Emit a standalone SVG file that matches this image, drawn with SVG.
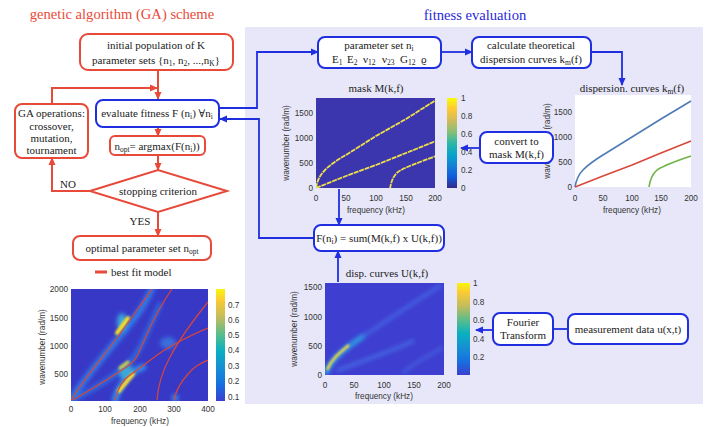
<svg xmlns="http://www.w3.org/2000/svg" width="720" height="427" viewBox="0 0 720 427">
<style>
.t{font-family:"Liberation Serif","DejaVu Serif",serif;font-size:11px;fill:#222;text-anchor:middle}
.ax{font-family:"Liberation Sans",Arial,sans-serif;font-size:8.2px;fill:#333}
.axm{font-family:"Liberation Sans",Arial,sans-serif;font-size:8.2px;fill:#333;text-anchor:middle}
.axr{font-family:"Liberation Sans",Arial,sans-serif;font-size:8.2px;fill:#333;text-anchor:end}
.rb{fill:#fff;stroke:#e84a3a;stroke-width:2}
.bb{fill:#fff;stroke:#1f2fe0;stroke-width:2}
.rc{fill:none;stroke:#e84a3a;stroke-width:2}
.bc{fill:none;stroke:#1f2fe0;stroke-width:1.8}
.mk{fill:none;stroke:#eee04a;stroke-width:1.8;stroke-dasharray:5 0.8}
.rf{fill:none;stroke:#d8463a;stroke-width:1.2}
.s{font-size:7.5px}
</style>
<defs>
<marker id="ar" markerWidth="8" markerHeight="8" refX="7" refY="4" orient="auto" markerUnits="userSpaceOnUse"><path d="M0,0.5 L8,4 L0,7.5 z" fill="#e84a3a"/></marker>
<marker id="ab" markerWidth="8" markerHeight="8" refX="7" refY="4" orient="auto" markerUnits="userSpaceOnUse"><path d="M0,0.5 L8,4 L0,7.5 z" fill="#1f2fe0"/></marker>
<linearGradient id="par" x1="0" y1="1" x2="0" y2="0">
<stop offset="0" stop-color="#352a87"/><stop offset="0.125" stop-color="#0f5cdd"/><stop offset="0.25" stop-color="#1481d6"/><stop offset="0.375" stop-color="#06a4ca"/><stop offset="0.5" stop-color="#2eb7a4"/><stop offset="0.625" stop-color="#87bf77"/><stop offset="0.75" stop-color="#d1bb59"/><stop offset="0.875" stop-color="#fec832"/><stop offset="1" stop-color="#f9fb0e"/>
</linearGradient>
<linearGradient id="par2" x1="0" y1="1" x2="0" y2="0">
<stop offset="0" stop-color="#3b3fd0"/><stop offset="0.15" stop-color="#1670e0"/><stop offset="0.3" stop-color="#1690d4"/><stop offset="0.45" stop-color="#0ab0c0"/><stop offset="0.6" stop-color="#5cbd8a"/><stop offset="0.75" stop-color="#c3bc5c"/><stop offset="0.9" stop-color="#fbcb33"/><stop offset="1" stop-color="#f9f50e"/>
</linearGradient>
<filter id="b2" x="-20%" y="-20%" width="140%" height="140%"><feGaussianBlur stdDeviation="2.2"/></filter>
<filter id="b1" x="-20%" y="-20%" width="140%" height="140%"><feGaussianBlur stdDeviation="0.9"/></filter>
<clipPath id="cL"><rect x="71" y="289" width="137" height="112"/></clipPath>
<clipPath id="cU"><rect x="325" y="283" width="119" height="92"/></clipPath>
<clipPath id="cM"><rect x="316" y="98" width="119" height="90"/></clipPath>
</defs>

<rect width="720" height="427" fill="#fff"/>
<rect x="245" y="27" width="458" height="377" fill="#e7e7f9"/>

<text x="122" y="19" style="font-family:'Liberation Serif',serif;font-size:14.6px;fill:#e84a3a;text-anchor:middle">genetic algorithm (GA) scheme</text>
<text x="475" y="20" style="font-family:'Liberation Serif',serif;font-size:14.6px;fill:#2a2ad8;text-anchor:middle">fitness evaluation</text>

<g id="plotR">
<text class="t" x="632" y="92">dispersion. curves k<tspan class="s" dy="2">m</tspan><tspan dy="-2">(f)</tspan></text>
<rect x="575" y="95" width="116" height="92" fill="#fff"/>
<path d="M575,187 C576,181 578,175 583,170 S598,158 603,155 L632,137 L661,119 L691,101" fill="none" stroke="#4f7bb5" stroke-width="1.6"/>
<path d="M575,187 L603,176 L632,165 L661,153 L691,141" fill="none" stroke="#d9493a" stroke-width="1.6"/>
<path d="M649,187 C650,180 652,175 656,171 S676,161 691,156" fill="none" stroke="#6cb544" stroke-width="1.6"/>
<text class="axr" x="572" y="115">1500</text>
<text class="axr" x="572" y="140">1000</text>
<text class="axr" x="572" y="165">500</text>
<text class="axr" x="572" y="190">0</text>
<text class="axm" x="575" y="201">0</text>
<text class="axm" x="603" y="201">50</text>
<text class="axm" x="632" y="201">100</text>
<text class="axm" x="661" y="201">150</text>
<text class="axm" x="691" y="201">200</text>
<text class="axm" x="632" y="213">frequency (kHz)</text>
<text class="axm" x="550" y="141" transform="rotate(-90 550 141)">wavenumber (rad/m)</text>
</g>

<g id="connectors">
<path class="rc" d="M158,70 V99" marker-end="url(#ar)"/>
<path class="rc" d="M52,104 V88 H157" marker-end="url(#ar)"/>
<path class="rc" d="M158,127 V136" marker-end="url(#ar)"/>
<path class="rc" d="M158,155 V170" marker-end="url(#ar)"/>
<path class="rc" d="M90,191 H52 V158" marker-end="url(#ar)"/>
<path class="rc" d="M158,212 V236" marker-end="url(#ar)"/>
<path class="bc" d="M219,108 H257 V52 H318" marker-end="url(#ab)"/>
<path class="bc" d="M441,52 H472" marker-end="url(#ab)"/>
<path class="bc" d="M591,52 H622 V85" marker-end="url(#ab)"/>
<path class="bc" d="M314,238 H259 V119 H220" marker-end="url(#ab)"/>
<path class="bc" d="M339,189 V225" marker-end="url(#ab)"/>
<path class="bc" d="M338,282 V251" marker-end="url(#ab)"/>
<path class="bc" d="M480,148 H461" marker-end="url(#ab)"/>
<path class="bc" d="M493,330 H476" marker-end="url(#ab)"/>
<path class="bc" d="M568,329 H553"/>
</g>

<g id="init"><rect class="rb" x="80" y="34" width="153" height="36" rx="8"/>
<text class="t" x="156" y="49">initial population of K</text>
<text class="t" x="156" y="64">parameter sets {n<tspan class="s" dy="2">1</tspan><tspan dy="-2">, n</tspan><tspan class="s" dy="2">2</tspan><tspan dy="-2">, ...,n</tspan><tspan class="s" dy="2">K</tspan><tspan dy="-2">}</tspan></text></g>

<g id="evaluate"><rect class="bb" x="96" y="100" width="123" height="27" rx="7"/>
<text class="t" x="157" y="117">evaluate fitness F (n<tspan class="s" dy="2">i</tspan><tspan dy="-2">) ∀n</tspan><tspan class="s" dy="2">i</tspan></text></g>

<g id="gaops"><rect class="rb" x="15" y="104" width="73" height="54" rx="7"/>
<text class="t" x="51.5" y="117">GA operations:</text>
<text class="t" x="51.5" y="130">crossover,</text>
<text class="t" x="51.5" y="142">mutation,</text>
<text class="t" x="51.5" y="154">tournament</text></g>

<g id="nopt"><rect class="rb" x="110" y="136" width="95" height="19" rx="5"/>
<text class="t" x="157" y="149.5">n<tspan class="s" dy="2">opt</tspan><tspan dy="-2">= argmax(F(n</tspan><tspan class="s" dy="2">i</tspan><tspan dy="-2">))</tspan></text></g>

<g id="stop"><path class="rb" d="M90,191 L158,170 L227,191 L158,212 Z"/>
<text class="t" x="158" y="194.5">stopping criterion</text></g>
<text class="t" x="68" y="188">NO</text>
<text class="t" x="140" y="225">YES</text>

<g id="optimal"><rect class="rb" x="73" y="236" width="138" height="24" rx="7"/>
<text class="t" x="142" y="252">optimal parameter set n<tspan class="s" dy="2">opt</tspan></text></g>

<g id="legend"><line x1="95" y1="272" x2="107" y2="272" stroke="#e84a3a" stroke-width="3"/>
<text class="t" x="111" y="276" style="text-anchor:start">best fit model</text></g>

<g id="plotL">
<g clip-path="url(#cL)">
<rect x="71" y="289" width="137" height="112" fill="#3838c6"/>
<g filter="url(#b2)" fill="none" stroke-linecap="round">
<path d="M71,400 C80,385 100,360 125,330 S145,300 152,289" stroke="#2f8ff0" stroke-width="6" opacity="0.8"/>
<path d="M73,400 C95,388 118,375 130,362 S145,335 160,305" stroke="#2a7de8" stroke-width="5" opacity="0.75"/>
<path d="M115,400 C120,383 130,372 143,367" stroke="#2f9af0" stroke-width="6"/>
<ellipse cx="168" cy="343" rx="8" ry="6" fill="#3a86e6" stroke="none" opacity="0.7"/>
<ellipse cx="175" cy="398" rx="3" ry="4" fill="#3a8ee8" stroke="none"/>
<ellipse cx="122" cy="322" rx="5" ry="9" fill="#3aa8e0" stroke="none"/>
<ellipse cx="126" cy="372" rx="7" ry="8" fill="#3aa8d8" stroke="none"/>
</g>
<g filter="url(#b1)" fill="none" stroke-linecap="round">
<path d="M117,333 L128,318" stroke="#f8e020" stroke-width="4"/>
<path d="M119,391 L133,374" stroke="#f6d830" stroke-width="4"/>
<path d="M120,368 L128,362" stroke="#d8d040" stroke-width="3"/>
</g>
<path class="rf" d="M71,400 C80,385 100,360 110,347 S130,320 137,310 S148,295 152,289"/>
<path class="rf" d="M73,400 C90,390 110,378 125,368 S138,352 142,345 S152,318 172,289"/>
<path class="rf" d="M115,400 C118,388 122,380 130,375 S150,360 160,353 S195,333 208,328"/>
<path class="rf" d="M157,400 C158,385 162,372 170,357 S195,318 208,302"/>
<path class="rf" d="M174,400 C176,390 180,383 188,374 S200,364 208,360"/>
</g>
<rect x="216" y="289" width="9" height="112" fill="url(#par2)"/>
<text class="axr" x="68" y="292">2000</text>
<text class="axr" x="68" y="321">1500</text>
<text class="axr" x="68" y="349">1000</text>
<text class="axr" x="68" y="377">500</text>
<text class="axm" x="71" y="412">0</text>
<text class="axm" x="105" y="412">100</text>
<text class="axm" x="140" y="412">200</text>
<text class="axm" x="174" y="412">300</text>
<text class="axm" x="208" y="412">400</text>
<text class="axm" x="140" y="424">frequency (kHz)</text>
<text class="axm" x="45" y="347" transform="rotate(-90 45 347)">wavenumber (rad/m)</text>
<text class="ax" x="228" y="308">0.7</text>
<text class="ax" x="228" y="323">0.6</text>
<text class="ax" x="228" y="338">0.5</text>
<text class="ax" x="228" y="353">0.4</text>
<text class="ax" x="228" y="369">0.3</text>
<text class="ax" x="228" y="384">0.2</text>
<text class="ax" x="228" y="400">0.1</text>
</g>

<g id="param"><rect class="bb" x="318" y="37" width="123" height="31" rx="7"/>
<text class="t" x="379" y="49">parameter set n<tspan class="s" dy="2">i</tspan></text>
<text class="t" y="63" style="text-anchor:start"><tspan x="332">E</tspan><tspan class="s" dy="2">1</tspan><tspan x="347" dy="-2">E</tspan><tspan class="s" dy="2">2</tspan><tspan x="363" dy="-2">ν</tspan><tspan class="s" dy="2">12</tspan><tspan x="382" dy="-2">ν</tspan><tspan class="s" dy="2">23</tspan><tspan x="400" dy="-2">G</tspan><tspan class="s" dy="2">12</tspan><tspan x="421" dy="-2">ϱ</tspan></text></g>

<g id="calc"><rect class="bb" x="472" y="37" width="119" height="31" rx="7"/>
<text class="t" x="531" y="49">calculate theoretical</text>
<text class="t" x="531" y="63">dispersion curves k<tspan class="s" dy="2">m</tspan><tspan dy="-2">(f)</tspan></text></g>

<g id="plotM">
<text class="t" x="376" y="92">mask M(k,f)</text>
<g clip-path="url(#cM)">
<rect x="316" y="98" width="119" height="90" fill="#3b35ae"/>
<path class="mk" d="M316,188 C317,182 319,176 325,170 S340,158 346,155 L376,136 L406,119 L436,100"/>
<path class="mk" d="M316,188 L346,176 L376,165 L406,153 L436,141"/>
<path class="mk" d="M390,189 C391,182 393,176 398,172 S420,162 436,156"/>
</g>
<rect x="447" y="98" width="10" height="90" fill="url(#par)"/>
<text class="ax" x="461" y="101">1</text>
<text class="ax" x="461" y="119">0.8</text>
<text class="ax" x="461" y="137">0.6</text>
<text class="ax" x="461" y="155">0.4</text>
<text class="ax" x="461" y="173">0.2</text>
<text class="ax" x="461" y="191">0</text>
<text class="axr" x="313" y="116">1500</text>
<text class="axr" x="313" y="141">1000</text>
<text class="axr" x="313" y="166">500</text>
<text class="axr" x="313" y="191">0</text>
<text class="axm" x="316" y="201">0</text>
<text class="axm" x="346" y="201">50</text>
<text class="axm" x="376" y="201">100</text>
<text class="axm" x="406" y="201">150</text>
<text class="axm" x="435" y="201">200</text>
<text class="axm" x="376" y="213">frequency (kHz)</text>
<text class="axm" x="289" y="143" transform="rotate(-90 289 143)">wavenumber (rad/m)</text>
</g>

<g id="convert"><rect class="bb" x="480" y="132" width="73" height="31" rx="7"/>
<text class="t" x="516.5" y="145">convert to</text>
<text class="t" x="516.5" y="158">mask M(k,f)</text></g>

<g id="fbox"><rect class="bb" x="314" y="225" width="130" height="26" rx="7"/>
<text class="t" x="379" y="242">F(n<tspan class="s" dy="2">i</tspan><tspan dy="-2">) = sum(M(k,f) x U(k,f))</tspan></text></g>

<g id="plotU">
<text class="t" x="387" y="277">disp. curves U(k,f)</text>
<g clip-path="url(#cU)">
<rect x="325" y="283" width="119" height="92" fill="#3e3ed0"/>
<g filter="url(#b2)" fill="none" stroke-linecap="round">
<path d="M361,338 C380,325 405,308 440,286" stroke="#4a7ef0" stroke-width="3" opacity="0.7"/>
<path d="M338,370 C360,362 390,352 413,341" stroke="#4a86f0" stroke-width="3" opacity="0.75"/>
<path d="M403,373 C415,362 428,356 442,348" stroke="#4a78ea" stroke-width="3" opacity="0.6"/>
<path d="M326,373 C330,362 340,352 362,337" stroke="#2fa0e8" stroke-width="5"/>
</g>
<path d="M327,370 C331,360 338,354 349,345" fill="none" stroke="#f2d93a" stroke-width="2.6" filter="url(#b1)"/>
</g>
<rect x="457" y="283" width="13" height="92" fill="url(#par2)"/>
<text class="ax" x="473" y="286">1</text>
<text class="ax" x="473" y="305">0.8</text>
<text class="ax" x="473" y="323">0.6</text>
<text class="ax" x="473" y="342">0.4</text>
<text class="ax" x="473" y="360">0.2</text>
<text class="axr" x="322" y="290">1500</text>
<text class="axr" x="322" y="320">1000</text>
<text class="axr" x="322" y="349">500</text>
<text class="axr" x="322" y="378">0</text>
<text class="axm" x="325" y="388">0</text>
<text class="axm" x="354" y="388">50</text>
<text class="axm" x="384" y="388">100</text>
<text class="axm" x="414" y="388">150</text>
<text class="axm" x="444" y="388">200</text>
<text class="axm" x="384" y="399">frequency (kHz)</text>
<text class="axm" x="297" y="329" transform="rotate(-90 297 329)">wavenumber (rad/m)</text>
</g>

<g id="fourier"><rect class="bb" x="493" y="313" width="60" height="32" rx="7"/>
<text class="t" x="523" y="326">Fourier</text>
<text class="t" x="523" y="339">Transform</text></g>

<g id="measure"><rect class="bb" x="568" y="314" width="120" height="30" rx="7"/>
<text class="t" x="628" y="333">measurement data u(x,t)</text></g>
</svg>
